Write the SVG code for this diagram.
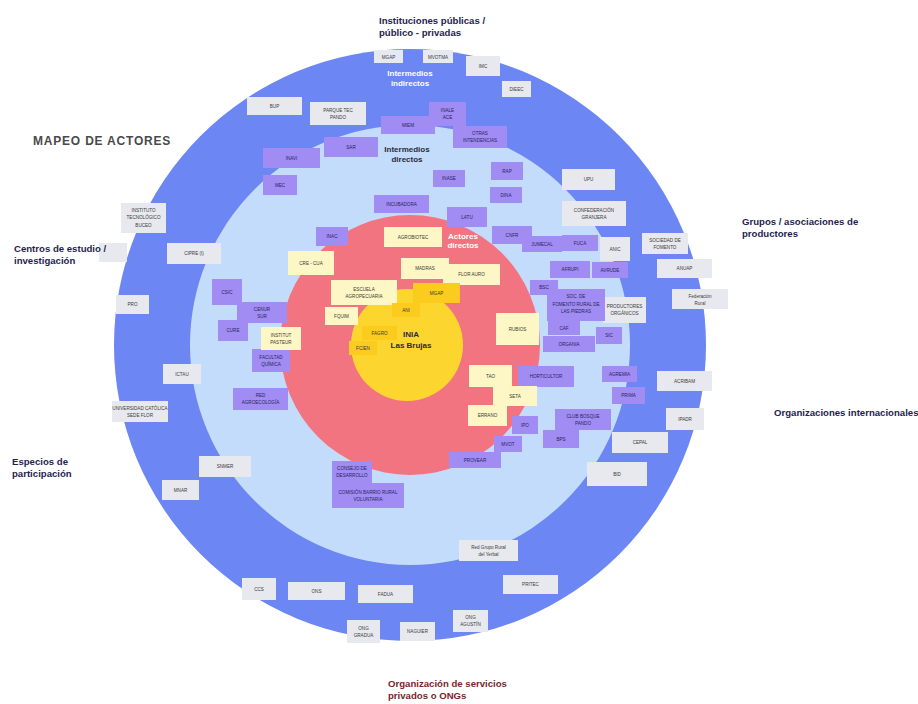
<svg xmlns="http://www.w3.org/2000/svg" width="918" height="704" viewBox="0 0 918 704">
<defs>
<style>
.g{fill:#e8e9ee}
.p{fill:#a08cf3}
.c{fill:#fdf7c6}
.y{fill:#fbcb1e}
text{font-family:"Liberation Sans","DejaVu Sans",sans-serif}
.t{font-size:4.6px;text-anchor:middle;fill:#3a3a3a}
.tp{font-size:4.6px;text-anchor:middle;fill:#2a2560}
.h{font-size:9.6px;font-weight:bold;fill:#1f1d4e}
.hr{font-size:9.6px;font-weight:bold;fill:#7a1f2b}
.lw{font-size:8px;font-weight:bold;text-anchor:middle;fill:#ffffff}
.ld{font-size:8px;font-weight:bold;text-anchor:middle;fill:#2b2b3a}
</style>
</defs>
<rect width="918" height="704" fill="#ffffff"/>
<g id="rings">
<circle cx="410" cy="345" r="296" fill="#6c86f3"/>
<circle cx="410" cy="345" r="220" fill="#c4dcfb"/>
<circle cx="410" cy="345" r="130" fill="#f27480"/>
<circle cx="407" cy="345" r="56" fill="#fcd62e"/>
</g>
<g id="n-small"><rect class="g" x="99" y="243" width="28" height="19"/></g>
<g id="titles">
<text x="33" y="145" style="font-size:12px;font-weight:bold;fill:#4a4a4a;letter-spacing:0.8px">MAPEO DE ACTORES</text>
<text class="h" x="379" y="24">Instituciones públicas /</text>
<text class="h" x="379" y="36">público - privadas</text>
<text class="h" x="742" y="225">Grupos / asociaciones de</text>
<text class="h" x="742" y="237">productores</text>
<text class="h" x="14" y="252">Centros de estudio /</text>
<text class="h" x="14" y="264">investigación</text>
<text class="h" x="12" y="465">Especios de</text>
<text class="h" x="12" y="477">participación</text>
<text class="h" x="774" y="416">Organizaciones internacionales</text>
<text class="hr" x="388" y="687">Organización de servicios</text>
<text class="hr" x="388" y="699">privados o ONGs</text>
<text class="lw" x="410" y="76">Intermedios</text>
<text class="lw" x="410" y="86">indirectos</text>
<text class="ld" x="407" y="152">Intermedios</text>
<text class="ld" x="407" y="162">directos</text>
<text class="lw" x="463" y="239">Actores</text>
<text class="lw" x="463" y="248">directos</text>
</g>
<g id="connectors"></g>
<g id="n-mgap-top"><rect class="g" x="374" y="50" width="29" height="13"/><text class="t" x="388.5" y="58.5">MGAP</text></g>
<g id="n-mvotma"><rect class="g" x="423" y="50" width="30" height="13"/><text class="t" x="438" y="58.5">MVOTMA</text></g>
<g id="n-imc"><rect class="g" x="466" y="56" width="34" height="20"/><text class="t" x="483" y="67.5">IMC</text></g>
<g id="n-dieec"><rect class="g" x="502" y="81" width="29" height="16"/><text class="t" x="516.5" y="90.5">DIEEC</text></g>
<g id="n-bup"><rect class="g" x="247" y="97" width="55" height="18"/><text class="t" x="274.5" y="107.5">BUP</text></g>
<g id="n-parque"><rect class="g" x="310" y="102" width="56" height="23"/><text class="t" x="338" y="111.5">PARQUE TEC</text><text class="t" x="338" y="118.5">PANDO</text></g>
<g id="n-itb"><rect class="g" x="121" y="203" width="45" height="30"/><text class="t" x="143.5" y="211.5">INSTITUTO</text><text class="t" x="143.5" y="219">TECNOLÓGICO</text><text class="t" x="143.5" y="226.5">BUCEO</text></g>
<g id="n-cipre"><rect class="g" x="167" y="243" width="54" height="21"/><text class="t" x="194" y="255">CIPRE (I)</text></g>
<g id="n-pro"><rect class="g" x="116" y="295" width="33" height="19"/><text class="t" x="132.5" y="306">PRO</text></g>
<g id="n-ictau"><rect class="g" x="163" y="364" width="38" height="20"/><text class="t" x="182" y="375.5">ICTAU</text></g>
<g id="n-ucu"><rect class="g" x="112" y="401" width="56" height="21"/><text class="t" x="140" y="409.5">UNIVERSIDAD CATÓLICA</text><text class="t" x="140" y="416.5">SEDE FLOR</text></g>
<g id="n-snmer"><rect class="g" x="199" y="456" width="52" height="21"/><text class="t" x="225" y="468">SNMER</text></g>
<g id="n-mnar"><rect class="g" x="162" y="480" width="37" height="20"/><text class="t" x="180.5" y="491.5">MNAR</text></g>
<g id="n-ccs"><rect class="g" x="242" y="578" width="34" height="22"/><text class="t" x="259" y="590.5">CCS</text></g>
<g id="n-ons"><rect class="g" x="288" y="582" width="57" height="18"/><text class="t" x="316.5" y="592.5">ONS</text></g>
<g id="n-fadua"><rect class="g" x="358" y="585" width="55" height="18"/><text class="t" x="385.5" y="595.5">FADUA</text></g>
<g id="n-gradua"><rect class="g" x="347" y="620" width="33" height="23"/><text class="t" x="363.5" y="629.5">ONG</text><text class="t" x="363.5" y="636.5">GRADUA</text></g>
<g id="n-naguier"><rect class="g" x="400" y="622" width="35" height="19"/><text class="t" x="417.5" y="633">NAGUIER</text></g>
<g id="n-agustin"><rect class="g" x="453" y="610" width="35" height="22"/><text class="t" x="470.5" y="619">ONG</text><text class="t" x="470.5" y="626">AGUSTÍN</text></g>
<g id="n-pritec"><rect class="g" x="503" y="575" width="55" height="19"/><text class="t" x="530.5" y="586">PRITEC</text></g>
<g id="n-yerbal"><rect class="g" x="459" y="540" width="59" height="21"/><text class="t" x="488.5" y="548.5">Red Grupo Rural</text><text class="t" x="488.5" y="555.5">del Yerbal</text></g>
<g id="n-bid"><rect class="g" x="587" y="462" width="60" height="24"/><text class="t" x="617" y="475.5">BID</text></g>
<g id="n-cepal"><rect class="g" x="612" y="432" width="56" height="21"/><text class="t" x="640" y="444">CEPAL</text></g>
<g id="n-ipadr"><rect class="g" x="666" y="408" width="38" height="22"/><text class="t" x="685" y="420.5">IPADR</text></g>
<g id="n-acribam"><rect class="g" x="657" y="371" width="55" height="20"/><text class="t" x="684.5" y="382.5">ACRIBAM</text></g>
<g id="n-fedrural"><rect class="g" x="672" y="289" width="56" height="20"/><text class="t" x="700" y="297.5">Federación</text><text class="t" x="700" y="304.5">Rural</text></g>
<g id="n-anuap"><rect class="g" x="657" y="259" width="55" height="19"/><text class="t" x="684.5" y="270">ANUAP</text></g>
<g id="n-socfom"><rect class="g" x="642" y="233" width="46" height="21"/><text class="t" x="665" y="241.5">SOCIEDAD DE</text><text class="t" x="665" y="248.5">FOMENTO</text></g>
<g id="n-upu"><rect class="g" x="562" y="169" width="53" height="21"/><text class="t" x="588.5" y="181">UPU</text></g>
<g id="n-confed"><rect class="g" x="562" y="201" width="64" height="25"/><text class="t" x="594" y="211.5">CONFEDERACIÓN</text><text class="t" x="594" y="218.5">GRANJERA</text></g>
<g id="n-anic"><rect class="g" x="600" y="237" width="30" height="24"/><text class="t" x="615" y="250.5">ANIC</text></g>
<g id="n-prodorg"><rect class="g" x="603" y="297" width="43" height="26"/><text class="t" x="624.5" y="308">PRODUCTORES</text><text class="t" x="624.5" y="315">ORGÁNICOS</text></g>
<g id="n-miem"><rect class="p" x="381" y="116" width="54" height="18"/><text class="tp" x="408" y="126.5">MIEM</text></g>
<g id="n-inale"><rect class="p" x="429" y="102" width="37" height="24"/><text class="tp" x="447.5" y="112">INALE</text><text class="tp" x="447.5" y="119">ACE</text></g>
<g id="n-otras"><rect class="p" x="453" y="126" width="54" height="22"/><text class="tp" x="480" y="135">OTRAS</text><text class="tp" x="480" y="142">INTENDENCIAS</text></g>
<g id="n-sar"><rect class="p" x="324" y="137" width="54" height="20"/><text class="tp" x="351" y="148.5">SAR</text></g>
<g id="n-inavi"><rect class="p" x="263" y="148" width="57" height="20"/><text class="tp" x="291.5" y="159.5">INAVI</text></g>
<g id="n-mec"><rect class="p" x="263" y="175" width="34" height="20"/><text class="tp" x="280" y="186.5">MEC</text></g>
<g id="n-inase"><rect class="p" x="433" y="170" width="32" height="17"/><text class="tp" x="449" y="180">INASE</text></g>
<g id="n-rap"><rect class="p" x="491" y="162" width="32" height="18"/><text class="tp" x="507" y="172.5">RAP</text></g>
<g id="n-dina"><rect class="p" x="490" y="187" width="32" height="16"/><text class="tp" x="506" y="196.5">DINA</text></g>
<g id="n-incub"><rect class="p" x="374" y="195" width="55" height="18"/><text class="tp" x="401.5" y="205.5">INCUBADORA</text></g>
<g id="n-latu"><rect class="p" x="447" y="207" width="40" height="20"/><text class="tp" x="467" y="218.5">LATU</text></g>
<g id="n-inac"><rect class="p" x="316" y="227" width="32" height="19"/><text class="tp" x="332" y="238">INAC</text></g>
<g id="n-cnfr"><rect class="p" x="492" y="226" width="40" height="18"/><text class="tp" x="512" y="236.5">CNFR</text></g>
<g id="n-jumecal"><rect class="p" x="522" y="236" width="40" height="16"/><text class="tp" x="542" y="245.5">JUMECAL</text></g>
<g id="n-fuca"><rect class="p" x="562" y="235" width="36" height="16"/><text class="tp" x="580" y="244.5">FUCA</text></g>
<g id="n-afrupi"><rect class="p" x="550" y="261" width="40" height="17"/><text class="tp" x="570" y="271">AFRUPI</text></g>
<g id="n-avrude"><rect class="p" x="592" y="262" width="36" height="16"/><text class="tp" x="610" y="271.5">AVRUDE</text></g>
<g id="n-bsc"><rect class="p" x="530" y="280" width="28" height="15"/><text class="tp" x="544" y="289">BSC</text></g>
<g id="n-sfrlp"><rect class="p" x="547" y="289" width="58" height="32"/><text class="tp" x="576" y="298">SOC. DE</text><text class="tp" x="576" y="305.5">FOMENTO RURAL DE</text><text class="tp" x="576" y="313">LAS PIEDRAS</text></g>
<g id="n-caf"><rect class="p" x="548" y="321" width="32" height="14"/><text class="tp" x="564" y="329.5">CAF</text></g>
<g id="n-organia"><rect class="p" x="543" y="336" width="52" height="16"/><text class="tp" x="569" y="345.5">ORGANIA</text></g>
<g id="n-sic"><rect class="p" x="596" y="327" width="26" height="17"/><text class="tp" x="609" y="337">SIC</text></g>
<g id="n-hort"><rect class="p" x="518" y="366" width="56" height="21"/><text class="tp" x="546" y="378">HORTICULTOR</text></g>
<g id="n-agremia"><rect class="p" x="602" y="366" width="35" height="16"/><text class="tp" x="619.5" y="375.5">AGREMIA</text></g>
<g id="n-prima"><rect class="p" x="612" y="387" width="33" height="17"/><text class="tp" x="628.5" y="397">PRIMA</text></g>
<g id="n-club"><rect class="p" x="555" y="409" width="56" height="21"/><text class="tp" x="583" y="417.5">CLUB BOSQUE</text><text class="tp" x="583" y="424.5">PANDO</text></g>
<g id="n-bps"><rect class="p" x="543" y="430" width="36" height="18"/><text class="tp" x="561" y="440.5">BPS</text></g>
<g id="n-ipo"><rect class="p" x="512" y="416" width="26" height="18"/><text class="tp" x="525" y="426.5">IPO</text></g>
<g id="n-mvot"><rect class="p" x="494" y="436" width="28" height="16"/><text class="tp" x="508" y="445.5">MVOT</text></g>
<g id="n-provear"><rect class="p" x="449" y="452" width="52" height="16"/><text class="tp" x="475" y="461.5">PROVEAR</text></g>
<g id="n-consejo"><rect class="p" x="332" y="461" width="40" height="22"/><text class="tp" x="352" y="470">CONSEJO DE</text><text class="tp" x="352" y="477">DESARROLLO</text></g>
<g id="n-comision"><rect class="p" x="332" y="483" width="72" height="25"/><text class="tp" x="368" y="493.5">COMISIÓN BARRIO RURAL</text><text class="tp" x="368" y="500.5">VOLUNTARIA</text></g>
<g id="n-redagro"><rect class="p" x="233" y="388" width="55" height="22"/><text class="tp" x="260.5" y="397">RED</text><text class="tp" x="260.5" y="404">AGROECOLOGÍA</text></g>
<g id="n-fq"><rect class="p" x="252" y="349" width="38" height="23"/><text class="tp" x="271" y="358.5">FACULTAD</text><text class="tp" x="271" y="365.5">QUÍMICA</text></g>
<g id="n-cure"><rect class="p" x="218" y="320" width="30" height="21"/><text class="tp" x="233" y="332">CURE</text></g>
<g id="n-cenur"><rect class="p" x="237" y="302" width="50" height="21"/><text class="tp" x="262" y="310.5">CENUR</text><text class="tp" x="262" y="317.5">SUR</text></g>
<g id="n-csic"><rect class="p" x="212" y="279" width="30" height="26"/><text class="tp" x="227" y="293.5">CSIC</text></g>
<g id="n-agrobiotec"><rect class="c" x="384" y="227" width="58" height="20"/><text class="t" x="413" y="238.5">AGROBIOTEC</text></g>
<g id="n-madras"><rect class="c" x="401" y="258" width="48" height="21"/><text class="t" x="425" y="270">MADRAS</text></g>
<g id="n-flor"><rect class="c" x="443" y="264" width="57" height="21"/><text class="t" x="471.5" y="276">FLOR AURO</text></g>
<g id="n-crecua"><rect class="c" x="288" y="251" width="46" height="24"/><text class="t" x="311" y="264.5">CRE - CUA</text></g>
<g id="n-escuela"><rect class="c" x="331" y="280" width="66" height="25"/><text class="t" x="364" y="290.5">ESCUELA</text><text class="t" x="364" y="297.5">AGROPECUARIA</text></g>
<g id="n-fquim"><rect class="c" x="325" y="307" width="33" height="18"/><text class="t" x="341.5" y="317.5">FQUIM</text></g>
<g id="n-pasteur"><rect class="c" x="261" y="327" width="40" height="23"/><text class="t" x="281" y="336.5">INSTITUT</text><text class="t" x="281" y="343.5">PASTEUR</text></g>
<g id="n-rubios"><rect class="c" x="496" y="313" width="43" height="32"/><text class="t" x="517.5" y="330.5">RUBIOS</text></g>
<g id="n-tao"><rect class="c" x="469" y="365" width="43" height="22"/><text class="t" x="490.5" y="377.5">TAO</text></g>
<g id="n-seta"><rect class="c" x="493" y="386" width="44" height="20"/><text class="t" x="515" y="397.5">SETA</text></g>
<g id="n-errano"><rect class="c" x="468" y="405" width="39" height="21"/><text class="t" x="487.5" y="417">ERRANO</text></g>
<g id="n-mgap-y"><rect class="y" x="413" y="283" width="47" height="20"/><text class="t" x="436.5" y="294.5">MGAP</text></g>
<g id="n-ani"><rect class="y" x="392" y="303" width="28" height="14"/><text class="t" x="406" y="311.5">ANI</text></g>
<g id="n-fagro"><rect class="y" x="362" y="326" width="35" height="14"/><text class="t" x="379.5" y="334.5">FAGRO</text></g>
<g id="n-fcien"><rect class="y" x="349" y="341" width="28" height="14"/><text class="t" x="363" y="349.5">FCIEN</text></g>
<g id="n-center"><text class="ld" x="411" y="337">INIA</text><text class="ld" x="411" y="348">Las Brujas</text></g>
</svg>
